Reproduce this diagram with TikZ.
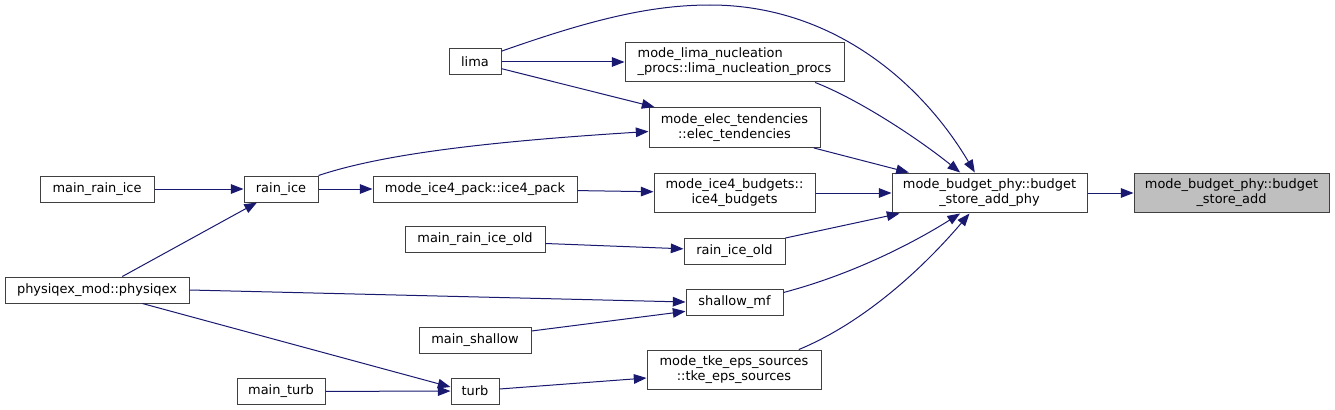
\documentclass[tikz,border=0pt]{standalone}
\usepackage{fontspec}
\setmainfont{DejaVu Sans}
\usetikzlibrary{arrows.meta, positioning}
\definecolor{callBlue}{RGB}{25,25,112}
\definecolor{boxInk}{RGB}{64,64,64}
\definecolor{focusGrey}{RGB}{191,191,191}

\begin{document}
\begin{tikzpicture}[x=0.75pt, y=-0.75pt,
      func/.style={draw=boxInk, line width=0.75pt, fill=white, inner xsep=2pt, inner ysep=4.5pt,
      minimum height=19.5pt, align=center, font=\fontsize{9.7}{11.3}\selectfont},
      focus/.style={func, fill=focusGrey},
      call/.style={-{Triangle[length=9.5pt, width=7.2pt]}, line width=0.75pt, draw=callBlue}
    ]
    \useasboundingbox (0,0) rectangle (1335,410);

    % callers, left to right
    \node[func, minimum width=85.5pt] (mainri) at (97,189) {main\_rain\_ice};
    \node[func, minimum width=138pt] (physiqex) at (97,290) {physiqex\_mod::physiqex};
    \node[func, minimum width=55.5pt] (rainice) at (281,189) {rain\_ice};
    \node[func, minimum width=66pt] (mainturb) at (281,391.5) {main\_turb};
    \node[func, minimum width=39pt] (lima) at (475,62) {lima};
    \node[func, minimum width=153pt] (pack) at (475,189) {mode\_ice4\_pack::ice4\_pack};
    \node[func, minimum width=105pt] (mainold) at (475,239.5) {main\_rain\_ice\_old};
    \node[func, minimum width=84pt] (mainshallow) at (475,340.5) {main\_shallow};
    \node[func, minimum width=36pt] (turb) at (475,391) {turb};
    \node[func, minimum width=164.25pt, align=left] (nucl) at (734.5,62) {mode\_lima\_nucleation\\\_procs::lima\_nucleation\_procs};
    \node[func, minimum width=128.25pt] (elec) at (734.5,127.5) {mode\_elec\_tendencies\\::elec\_tendencies};
    \node[func, minimum width=120.75pt] (budgets) at (734.5,193) {mode\_ice4\_budgets::\\ice4\_budgets};
    \node[func, minimum width=75.75pt] (old) at (734.5,251.5) {rain\_ice\_old};
    \node[func, minimum width=72.75pt] (shallow) at (734.5,302) {shallow\_mf};
    \node[func, minimum width=130.5pt] (tke) at (734,370) {mode\_tke\_eps\_sources\\::tke\_eps\_sources};
    \node[func, minimum width=146.25pt] (phy) at (989.5,193) {mode\_budget\_phy::budget\\\_store\_add\_phy};
    \node[focus, minimum width=146.25pt] (store) at (1231.5,193) {mode\_budget\_phy::budget\\\_store\_add};

    \draw[call] (mainri) -- (rainice);
    \draw[call] ([xshift=19pt]physiqex.north) -- ([xshift=-18pt]rainice.south);
    \draw[call] (rainice) -- (pack);
    \draw[call] (rainice.north east) .. controls (380,155) and (480,142) .. ([yshift=-3pt]elec.west);
    \draw[call] (lima) -- (nucl);
    \draw[call] ([yshift=-5pt]lima.east) -- ([xshift=4.5pt]elec.north west);
    \draw[call] ([yshift=-2pt]lima.north east) .. controls (590,20) and (650,5) .. (710,5)
      .. controls (830,5) and (920,80) .. ([xshift=-11pt]phy.north);
    \draw[call] ([xshift=-22pt]nucl.south east) .. controls (860,100) and (920,140) .. ([xshift=-22pt]phy.north);
    \draw[call] ([xshift=-5pt]elec.south east) -- ([xshift=13pt]phy.north west);
    \draw[call] (pack) -- (budgets);
    \draw[call] (budgets) -- (phy);
    \draw[call] ([yshift=-3pt]mainold.east) -- ([yshift=2pt]old.west);
    \draw[call] (old.north east) -- ([xshift=6pt]phy.south west);
    \draw[call] (physiqex.east) -- (shallow.west);
    \draw[call] ([yshift=-3pt]mainshallow.north east) -- ([yshift=-7pt]shallow.west);
    \draw[call] ([yshift=-3pt]shallow.north east) .. controls (850,275) and (910,245) .. ([xshift=-22pt]phy.south);
    \draw[call] ([xshift=34pt]physiqex.south) -- ([yshift=3pt]turb.west);
    \draw[call] (mainturb) -- (turb);
    \draw[call] ([yshift=1.5pt]turb.east) -- ([yshift=-6pt]tke.west);
    \draw[call] ([xshift=-17pt]tke.north east) .. controls (870,320) and (930,260) .. ([xshift=-15pt]phy.south);
    \draw[call] (phy) -- (store);
  \end{tikzpicture}
\end{document}
